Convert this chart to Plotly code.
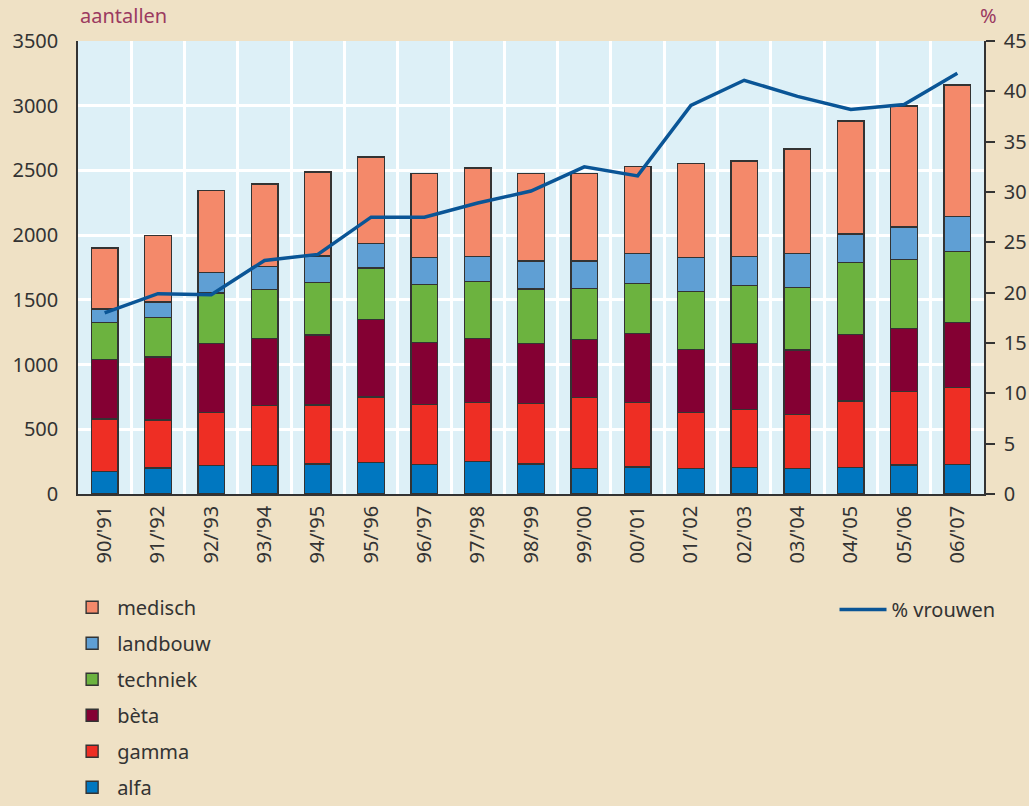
import plotly.graph_objects as go

# Academic years on the x axis
jaren = ["90/'91", "91/'92", "92/'93", "93/'94", "94/'95", "95/'96", "96/'97",
         "97/'98", "98/'99", "99/'00", "00/'01", "01/'02", "02/'03", "03/'04",
         "04/'05", "05/'06", "06/'07"]

# Counts per field (stacked from bottom to top)
alfa = [172, 202, 218, 218, 233, 243, 228, 249, 233, 195, 210, 195, 205, 197, 205, 223, 230]
gamma = [409, 371, 414, 468, 456, 505, 464, 456, 464, 551, 497, 433, 448, 415, 515, 569, 593]
beta = [458, 487, 531, 516, 538, 598, 479, 497, 466, 446, 533, 489, 512, 502, 513, 485, 500]
techniek = [286, 302, 389, 378, 407, 399, 450, 440, 420, 396, 387, 446, 446, 482, 556, 533, 549]
landbouw = [103, 120, 160, 176, 204, 189, 207, 193, 216, 211, 232, 262, 222, 263, 219, 252, 270]
medisch = [472, 516, 633, 638, 649, 669, 649, 683, 678, 678, 670, 727, 739, 806, 873, 935, 1017]

# Share of women (right axis, %)
pct_vrouwen = [18.0, 19.9, 19.8, 23.2, 23.8, 27.5, 27.5, 28.9, 30.1, 32.5, 31.6,
               38.6, 41.1, 39.5, 38.2, 38.7, 41.8]

series = [
    ("alfa", alfa, "#0077c0"),
    ("gamma", gamma, "#ee2e24"),
    ("bèta", beta, "#840033"),
    ("techniek", techniek, "#6cb33f"),
    ("landbouw", landbouw, "#5f9fd4"),
    ("medisch", medisch, "#f4896a"),
]

FONT = "Noto Sans"
TXT = "#333333"
FS = 20

fig = go.Figure()
for i, (naam, waarden, kleur) in enumerate(series):
    fig.add_trace(go.Bar(
        x=jaren, y=waarden, name=naam, legendgroup=naam,
        legendrank=len(series) - i,  # top segment listed first
        marker=dict(color=kleur, line=dict(color="#333333", width=1.4)),
        width=0.5, legend="legend",
    ))

fig.add_trace(go.Scatter(
    x=jaren, y=pct_vrouwen, name="% vrouwen", mode="lines",
    line=dict(color="#0a5596", width=3.5), yaxis="y2", legend="legend2",
))

fig.update_layout(
    width=1029, height=806,
    margin=dict(l=78, r=45, t=41, b=312, autoexpand=False),
    paper_bgcolor="#efe1c5",
    plot_bgcolor="#ddf0f7",
    barmode="stack",
    font=dict(family=FONT, size=FS, color=TXT),
    xaxis=dict(
        type="category", tickson="boundaries", tickangle=-90,
        showgrid=True, gridcolor="white", gridwidth=2.5,
        showline=True, linecolor="#333333", linewidth=1.5,
        ticks="", tickfont=dict(size=FS, color=TXT), ticklabelstandoff=2,
    ),
    yaxis=dict(
        range=[0, 3500], dtick=500, tick0=0,
        showgrid=True, gridcolor="white", gridwidth=2.5,
        showline=True, linecolor="#333333", linewidth=1.5,
        ticks="", zeroline=False, tickfont=dict(size=FS, color=TXT),
        ticklabelstandoff=14,
    ),
    yaxis2=dict(
        overlaying="y", side="right", range=[0, 45], dtick=5, tick0=0,
        showgrid=False, zeroline=False,
        showline=True, linecolor="#333333", linewidth=1.5,
        ticks="outside", ticklen=9, tickwidth=1.5, tickcolor="#333333",
        tickfont=dict(size=FS, color=TXT), ticklabelstandoff=5,
    ),
    legend=dict(
        x=-0.012, y=-0.207, xanchor="left", yanchor="top",
        orientation="v", traceorder="grouped", tracegroupgap=7,
        itemwidth=40,
        bgcolor="rgba(0,0,0,0)", font=dict(size=FS, color=TXT),
    ),
    legend2=dict(
        x=0.835, y=-0.212, xanchor="left", yanchor="top", itemwidth=47,
        bgcolor="rgba(0,0,0,0)", font=dict(size=FS, color=TXT),
    ),
    annotations=[
        dict(text="aantallen", xref="paper", yref="paper", x=0, y=1.0,
             xanchor="left", yanchor="bottom", yshift=10, showarrow=False,
             font=dict(size=FS, color="#9b3a60")),
        dict(text="%", xref="paper", yref="paper", x=1.0, y=1.0,
             xanchor="center", yanchor="bottom", yshift=10, xshift=4, showarrow=False,
             font=dict(size=FS, color="#9b3a60")),
    ],
)

fig.write_html("out.html")
